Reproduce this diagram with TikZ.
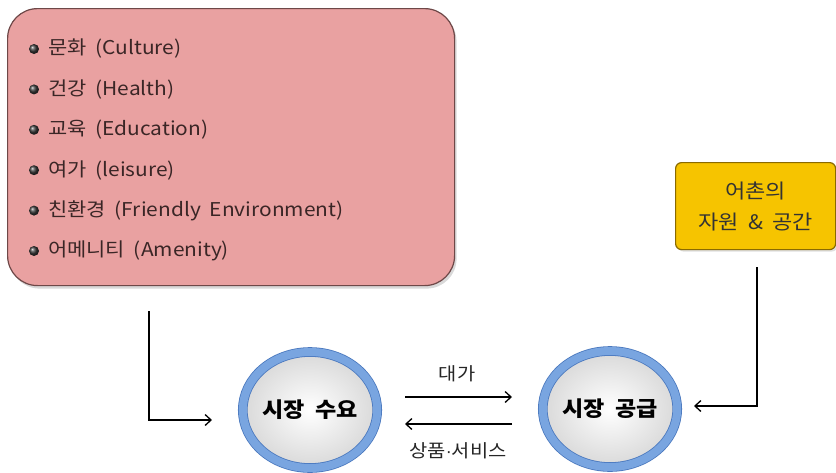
\documentclass[tikz,border=0pt]{standalone}
\usepackage{fontspec}
\setmainfont[FakeStretch=1.1,WordSpace=1.9]{Noto Sans CJK KR}
\newfontfamily\dotfont{Liberation Sans}
\usetikzlibrary{arrows.meta,shapes.geometric,shadows}
\definecolor{pinkfill}{HTML}{E9A1A1}
\definecolor{pinkedge}{HTML}{6E4848}
\definecolor{pinktext}{HTML}{3A2626}
\definecolor{goldfill}{HTML}{F6C400}
\definecolor{goldedge}{HTML}{8A6A00}
\definecolor{ringblue}{HTML}{79A5E0}
\definecolor{ringedge}{HTML}{4A78BE}
\tikzset{
  itemtext/.style={anchor=west, inner sep=0pt, text=pinktext, font=\fontsize{19}{21}\selectfont},
  bulletball/.style={circle, inner sep=0pt, minimum size=10pt, ball color=gray!45!black},
  market/.style={ellipse, inner sep=0pt, minimum width=125pt, minimum height=116pt, draw=ringedge, line width=0.8pt,
     double=ringblue, double distance=8pt, shade, inner color=white, outer color=gray!30,
     font=\fontsize{21}{23}\selectfont\bfseries, text=black,
     drop shadow={opacity=0.25, shadow xshift=2pt, shadow yshift=-3pt}},
  arr/.style={line width=1.3pt, -{Straight Barb[length=6pt,width=11pt]}},
  lbl/.style={font=\fontsize{18}{20}\selectfont, text=black!85, inner sep=0pt}
}
\begin{document}
\begin{tikzpicture}[x=1pt,y=-1pt]
\useasboundingbox (0,0) rectangle (836,472);
% pink box
\node[draw=pinkedge, line width=1.2pt, fill=pinkfill, rounded corners=30pt,
      minimum width=447pt, minimum height=277pt, anchor=north west,
      drop shadow={opacity=0.3, shadow xshift=2pt, shadow yshift=-3pt}] (box) at (7,8) {};
\foreach \i/\t in {1/문화 (Culture),2/건강 (Health),3/교육 (Education),4/여가 (leisure),5/친환경 (Friendly Environment),6/어메니티 (Amenity)}{
  \node[bulletball] (d\i) at (34,{49+40.4*(\i-1)}) {};
  \node[itemtext] (t\i) at (48,{49+40.4*(\i-1)}) {\t};
}
% yellow box
\node[draw=goldedge, line width=1.2pt, fill=goldfill, rounded corners=6pt,
      minimum width=160pt, minimum height=87pt, anchor=north west,
      align=center, font=\fontsize{20}{31}\selectfont, text=black!80,
      drop shadow={opacity=0.25, shadow xshift=2pt, shadow yshift=-2pt}] (res) at (675,162) {어촌의\\자원 \& 공간};
% circles
\node[market] (dem) at (310,410) {시장 수요};
\node[market] (sup) at (610,409) {시장 공급};
% connectors
\coordinate (s1) at (149,311);
\coordinate (e1) at (212,420);
\draw[arr] (s1) |- (e1);
\coordinate (s2) at (757,267);
\coordinate (e2) at (694,406);
\draw[arr] (s2) |- (e2);
\coordinate (p1) at (405,397);
\coordinate (p2) at (512,397);
\draw[arr] (p1) -- (p2);
\coordinate (q1) at (512,424);
\coordinate (q2) at (405,424);
\draw[arr] (q1) -- (q2);
\node[lbl] (price) at (457,374) {대가};
\node[lbl] (goods) at (458,451) {상품{\dotfont\fontsize{18}{20}\selectfont ·}서비스};
\end{tikzpicture}
\end{document}
